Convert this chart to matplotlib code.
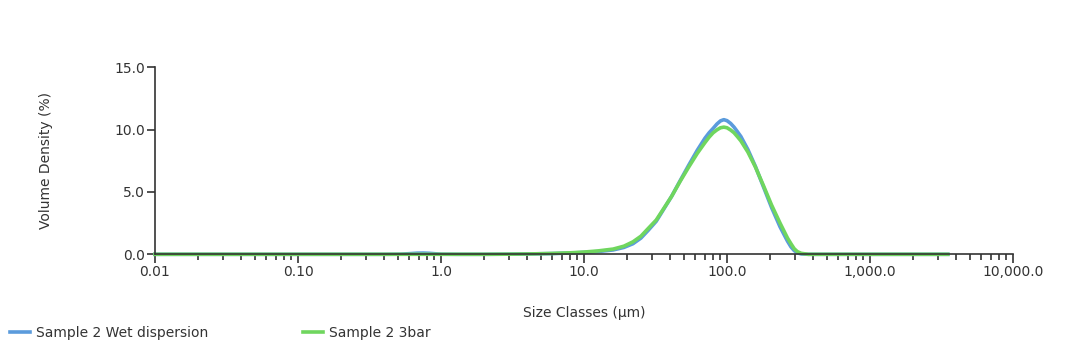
import numpy as np
import matplotlib
matplotlib.use("Agg")
import matplotlib.pyplot as plt
from matplotlib.ticker import FixedLocator, FixedFormatter, LogLocator, NullFormatter

# size classes (um) and volume density (%)
size_um = [0.01, 0.1, 0.4, 0.52, 0.6, 0.68, 0.75, 0.83, 0.92, 1.0, 1.3, 2.0, 3.0,
           4.2, 6.0, 8.0, 10.0, 12.5, 16.0, 19.0, 22.0, 25.0, 28.0, 32.0, 36.0,
           41.0, 47.0, 54.0, 62.0, 70.0, 75.0, 80.0, 85.0, 90.0, 95.0, 100.0,
           106.0, 112.0, 118.0, 125.0, 140.0, 158.0, 180.0, 205.0, 235.0, 265.0,
           280.0, 295.0, 310.0, 330.0, 370.0, 420.0, 3500.0]

wet = [0.0, 0.0, 0.0, 0.01, 0.05, 0.09, 0.1, 0.08, 0.04, 0.01, 0.0, 0.0, 0.01,
       0.03, 0.06, 0.1, 0.15, 0.22, 0.35, 0.55, 0.85, 1.3, 1.9, 2.65, 3.6,
       4.65, 5.9, 7.15, 8.35, 9.3, 9.75, 10.1, 10.45, 10.7, 10.8, 10.72,
       10.5, 10.2, 9.85, 9.45, 8.4, 7.05, 5.4, 3.75, 2.2, 1.05,
       0.6, 0.3, 0.12, 0.03, 0.0, 0.0, 0.0]

bar3 = [0.0, 0.0, 0.0, 0.0, 0.0, 0.0, 0.0, 0.0, 0.0, 0.0, 0.0, 0.0, 0.01,
        0.03, 0.07, 0.12, 0.18, 0.27, 0.42, 0.65, 1.0, 1.45, 2.05, 2.75, 3.65,
        4.65, 5.85, 7.0, 8.1, 8.95, 9.4, 9.75, 9.98, 10.15, 10.2, 10.15,
        9.97, 9.75, 9.45, 9.1, 8.2, 7.0, 5.5, 3.95, 2.5, 1.3,
        0.85, 0.45, 0.22, 0.08, 0.0, 0.0, 0.0]

series_names = ["Sample 2 Wet dispersion", "Sample 2 3bar"]
series_colors = ["#5b9bdc", "#6fd65e"]

xticks = [0.01, 0.1, 1, 10, 100, 1000, 10000]
xtick_labels = ["0.01", "0.10", "1.0", "10.0", "100.0", "1,000.0", "10,000.0"]
yticks = [0, 5, 10, 15]
ytick_labels = ["0.0", "5.0", "10.0", "15.0"]

plt.rcParams['font.family'] = ['DejaVu Sans']
plt.rcParams['font.size'] = 10

fig = plt.figure(figsize=(10.8, 3.55), dpi=100)
ax = fig.add_axes([155/1080, 1 - 254.3/355, (1013 - 155)/1080, (254.3 - 67.3)/355])

lines = []
for vals, name, col in zip([wet, bar3], series_names, series_colors):
    ln, = ax.plot(size_um, vals, color=col, lw=2.6, label=name,
                  solid_joinstyle='round', clip_on=False)
    lines.append(ln)

ax.set_xscale('log')
ax.set_xlim(0.01, 10000)
ax.set_ylim(0, 15)

ax.xaxis.set_major_locator(FixedLocator(xticks))
ax.xaxis.set_major_formatter(FixedFormatter(xtick_labels))
ax.xaxis.set_minor_locator(LogLocator(base=10, subs=np.arange(2, 10)))
ax.xaxis.set_minor_formatter(NullFormatter())
ax.yaxis.set_major_locator(FixedLocator(yticks))
ax.yaxis.set_major_formatter(FixedFormatter(ytick_labels))

for s in ['top', 'right']:
    ax.spines[s].set_visible(False)
for s in ['left', 'bottom']:
    ax.spines[s].set_color('#333333')
    ax.spines[s].set_linewidth(1.2)
    ax.spines[s].set_zorder(3)

ax.tick_params(axis='x', which='major', length=6.5, width=1.2, color='#333333',
               labelcolor='#333333', labelsize=10, pad=1)
ax.tick_params(axis='x', which='minor', length=4.5, width=1.2, color='#333333')
ax.tick_params(axis='y', which='major', length=6, width=1.2, color='#333333',
               labelcolor='#333333', labelsize=10, pad=1)

ax.set_xlabel("Size Classes (\u00b5m)", color='#333333', labelpad=20)
ax.set_ylabel("Volume Density (%)", color='#333333', labelpad=44)

fig.legend(handles=lines, labels=series_names, loc='center left',
           bbox_to_anchor=(10/1080, 1 - 333/355), ncol=2, frameon=False,
           borderpad=0, borderaxespad=0, handlelength=1.45, handletextpad=0.45,
           columnspacing=6.8, fontsize=10, labelcolor='#333333')

fig.savefig("out.png", dpi=100)
